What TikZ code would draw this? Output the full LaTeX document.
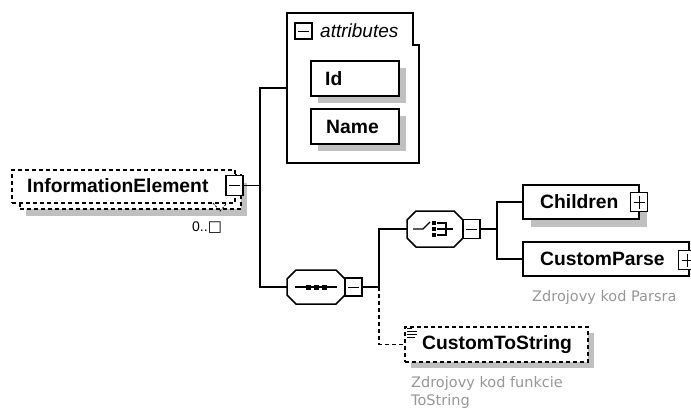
\documentclass[tikz,border=0pt]{standalone}
\usepackage{fontspec}
\usetikzlibrary{calc}
\setmainfont{Liberation Sans}
\newfontfamily\notefont{DejaVu Sans}
\definecolor{shadowgray}{RGB}{192,192,192}
\definecolor{notegray}{RGB}{150,150,150}
\tikzset{
  holder/.style={inner sep=0pt, outer sep=0pt},
  solidbox/.style={holder, draw, line width=1.5pt, fill=white},
  dashbox/.style={holder, draw, line width=1.5pt, fill=white, dash pattern=on 4pt off 3pt},
  toggle/.style={holder, draw, line width=1.4pt, fill=white, minimum width=17, minimum height=19},
  sign/.style={line width=1pt},
  conn/.style={line width=1.3pt},
  dconn/.style={line width=1.3pt, dash pattern=on 4pt off 3pt},
  dropshadow/.style={fill=shadowgray},
  lbl/.style={inner sep=0pt, font=\fontsize{19.3}{22}\selectfont\bfseries},
  note/.style={inner sep=0pt, text=notegray, font=\notefont\fontsize{14.5}{20}\selectfont, align=left},
}
% octagonal compositor outline built from a holder node's corners
\newcommand\octpath[1]{([xshift=9pt]#1.north west) -- ([xshift=-9pt]#1.north east) -- ([yshift=-9pt]#1.north east) -- ([yshift=9pt]#1.south east) -- ([xshift=-9pt]#1.south east) -- ([xshift=9pt]#1.south west) -- ([yshift=9pt]#1.south west) -- ([yshift=-9pt]#1.north west) -- cycle}
\newcommand\minussign[1]{\draw[sign] ([xshift=3pt]#1.west) -- ([xshift=-3pt]#1.east);}
\newcommand\plussign[1]{\draw[sign] ([xshift=3pt]#1.west) -- ([xshift=-3pt]#1.east); \draw[sign] ([yshift=-3pt]#1.north) -- ([yshift=3pt]#1.south);}
\begin{document}
\begin{tikzpicture}[x=1pt, y=-1pt, line join=miter]
\useasboundingbox (0,0) rectangle (691,410);
\clip (0,0) rectangle (691,410);

% branch columns
\coordinate (trunk) at (260,0);
\coordinate (seqbranch) at (379,0);
\coordinate (choicebranch) at (497,0);

% ---- InformationElement (0..unbounded: stacked boxes) ----
\fill[dropshadow] (26,183) rectangle (247,216);
\node[dashbox, minimum width=221, minimum height=34] (ieback) at (130.5,192) {};
\node[dashbox, minimum width=223, minimum height=33] (ie) at (123.5,186.5) {};
\draw[line width=0.8pt, dash pattern=on 2pt off 1.5pt] (213,203) -- (220,211) -- (227,203);
\node[lbl, anchor=west] (ietext) at (27,186) {InformationElement};
\node[toggle, minimum height=20] (ietog) at (234.5,185.5) {};
\minussign{ietog}
\node[inner sep=0pt, anchor=west, font=\fontsize{14}{16}\selectfont] (iemult) at (192,228) {0..{\notefont\fontsize{15}{16}\selectfont □}};

% ---- attributes group ----
\node[holder, minimum width=132, minimum height=150] (attr) at (353,88) {};
\draw[line width=1.6pt] (attr.north west) -- ([xshift=-6pt]attr.north east) -- ([xshift=-6pt,yshift=-32pt]attr.north east) -- ([yshift=-32pt]attr.north east) -- (attr.south east) -- (attr.south west) -- cycle;
\node[toggle, minimum width=17, minimum height=16] (attrtog) at (303.5,31) {};
\minussign{attrtog}
\node[inner sep=0pt, anchor=west, font=\fontsize{19}{22}\selectfont\itshape] (attrtext) at (320,31) {attributes};

\fill[dropshadow] (318,68) rectangle (406,103);
\node[solidbox, minimum width=88, minimum height=35] (id) at (355,78.5) {};
\node[lbl, anchor=west] (idtext) at (325,79) {Id};

\fill[dropshadow] (318,116) rectangle (406,151);
\node[solidbox, minimum width=88, minimum height=35] (name) at (355,126.5) {};
\node[lbl, anchor=west] (nametext) at (326,127) {Name};

% ---- sequence compositor ----
\node[holder, minimum width=58, minimum height=34] (seq) at (316,287) {};
\fill[dropshadow, shift={(7pt,-6pt)}] \octpath{seq};
\draw[line width=1.5pt, fill=white] \octpath{seq};
\draw[line width=1.1pt] ([xshift=-21pt]seq.center) -- ([xshift=21pt]seq.center);
\foreach \dx in {-8,0,8} \fill ($(seq.center)+(\dx,0)+(-2.5,-2.5)$) rectangle ++(5,5);
\node[toggle, minimum height=18] (seqtog) at (353.5,287) {};
\minussign{seqtog}

% ---- choice compositor ----
\node[holder, minimum width=56, minimum height=36] (choice) at (435,229) {};
\fill[dropshadow, shift={(7pt,-6pt)}] \octpath{choice};
\draw[line width=1.5pt, fill=white] \octpath{choice};
\draw[line width=1.1pt] ($(choice.center)+(-22,0)$) -- ($(choice.center)+(-12,0)$) -- ($(choice.center)+(-5,-7)$);
\foreach \dy in {-6,0,6} \fill ($(choice.center)+(-1,\dy)+(-2.3,-2.3)$) rectangle ++(4.6,4.6);
\draw[line width=1.1pt] ($(choice.center)+(2,-6)$) -- ($(choice.center)+(11,-6)$) -- ($(choice.center)+(11,6)$) -- ($(choice.center)+(2,6)$);
\draw[line width=1.1pt] ($(choice.center)+(2,0)$) -- ($(choice.center)+(18,0)$);
\node[toggle] (choicetog) at (471.5,229) {};
\minussign{choicetog}

% ---- Children ----
\fill[dropshadow] (531,193) rectangle (647,227);
\node[solidbox, minimum width=116, minimum height=34] (children) at (581,202) {};
\node[lbl, anchor=west] (childrentext) at (540,202) {Children};
\node[toggle] (childrentog) at (639,202) {};
\plussign{childrentog}

% ---- CustomParse ----
\node[solidbox, minimum width=166, minimum height=34] (cparse) at (606,259) {};
\node[lbl, anchor=west] (cparsetext) at (540,259) {CustomParse};
\node[toggle] (cparsetog) at (687,260) {};
\plussign{cparsetog}
\node[note, anchor=west] (cparsenote) at (532,297) {Zdrojovy kod Parsra};

% ---- CustomToString (optional) ----
\fill[dropshadow] (411,333) rectangle (594,368);
\node[dashbox, minimum width=183, minimum height=35] (cts) at (496.5,344.5) {};
\foreach \yy/\len in {328/5,331/10,334/10,337/8} \draw[line width=0.8pt] (407,\yy) -- ++(\len,0);
\node[lbl, anchor=west] (ctstext) at (422,345) {CustomToString};
\node[note, anchor=north west] (ctsnote) at (411,376) {Zdrojovy kod funkcie\\[-2pt]ToString};

% ---- connectors ----
\draw[conn] (ietog.east) -- (ietog.east -| trunk);
\draw[conn] (attr.west) -- (attr.west -| trunk) -- (seq.west -| trunk) -- (seq.west);
\draw[conn] (seqtog.east) -- (seqtog.east -| seqbranch) -- (choice.west -| seqbranch) -- (choice.west);
\draw[dconn] (seqtog.east -| seqbranch) -- (cts.west -| seqbranch) -- (cts.west);
\draw[conn] (choicetog.east) -- (choicetog.east -| choicebranch);
\draw[conn] (children.west) -- (children.west -| choicebranch) -- (cparse.west -| choicebranch) -- (cparse.west);
\end{tikzpicture}
\end{document}
